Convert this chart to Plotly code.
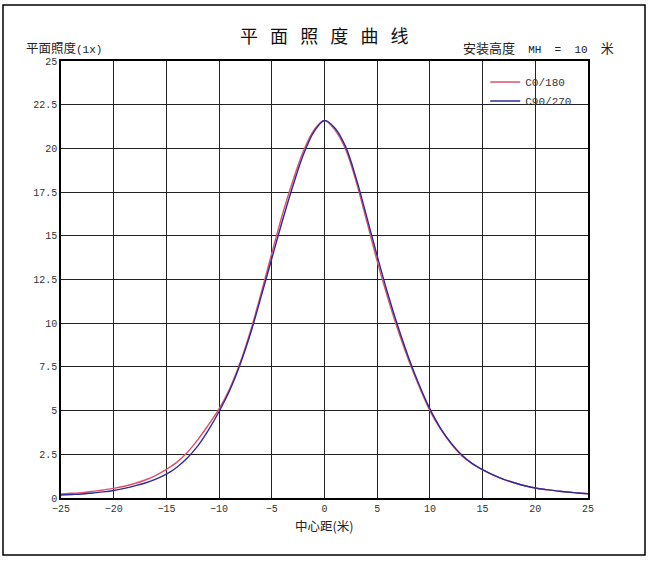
import plotly.graph_objects as go

x_m = list(range(-25, 26))
c0_180 = [0.23, 0.27, 0.31, 0.38, 0.46, 0.55, 0.67, 0.83, 1.03, 1.3, 1.64, 2.05, 2.62, 3.35, 4.2, 5.1,
          6.25, 7.75, 9.6, 11.75, 14.0, 16.2, 18.15, 19.85, 21.05, 21.6, 21.05, 19.95, 18.1, 15.85, 13.55,
          11.45, 9.55, 7.85, 6.35, 5.0, 3.95, 3.1, 2.43, 1.96, 1.61, 1.31, 1.07, 0.87, 0.7, 0.57,
          0.48, 0.41, 0.34, 0.29, 0.24]
c90_270 = [0.17, 0.2, 0.23, 0.29, 0.35, 0.43, 0.55, 0.69, 0.86, 1.08, 1.36, 1.76, 2.3, 3.0, 3.9, 4.95,
           6.15, 7.65, 9.45, 11.55, 13.7, 15.85, 17.85, 19.65, 20.95, 21.6, 21.15, 20.1, 18.3, 16.1, 13.85,
           11.7, 9.75, 8.0, 6.45, 5.1, 4.0, 3.15, 2.47, 1.98, 1.62, 1.32, 1.07, 0.87, 0.7, 0.57,
           0.48, 0.41, 0.34, 0.29, 0.24]
x_ticks = [-25, -20, -15, -10, -5, 0, 5, 10, 15, 20, 25]
y_ticks = [0, 2.5, 5, 7.5, 10, 12.5, 15, 17.5, 20, 22.5, 25]
y_tick_text = ["0", "2.5", "5", "7.5", "10", "12.5", "15", "17.5", "20", "22.5", "25"]

MONO = "Liberation Mono, DejaVu Sans Mono, monospace"
CJK = "Noto Sans CJK SC, sans-serif"

fig = go.Figure()
fig.add_trace(go.Scatter(x=x_m, y=c0_180, mode="lines", name="C0/180",
                         line=dict(color="#e0506a", width=1.4, shape="spline", smoothing=1.0)))
fig.add_trace(go.Scatter(x=x_m, y=c90_270, mode="lines", name="C90/270",
                         line=dict(color="#2b2b9c", width=1.4, shape="spline", smoothing=1.0)))

axis_common = dict(showgrid=True, gridcolor="#222222", gridwidth=1, zeroline=False,
                   showline=True, linecolor="#000000", linewidth=1.5, mirror=True,
                   ticks="", tickfont=dict(family=MONO, size=10, color="#333333"))

fig.update_xaxes(range=[-25, 25], tickvals=x_ticks, **axis_common)
fig.update_yaxes(range=[0, 25], tickvals=y_ticks, ticktext=y_tick_text, **axis_common)

fig.update_layout(
    width=649, height=565,
    margin=dict(l=61, r=61, t=61, b=67),
    paper_bgcolor="white", plot_bgcolor="white",
    showlegend=True,
    legend=dict(x=0.805, y=0.985, xanchor="left", yanchor="top",
                bgcolor="rgba(0,0,0,0)", borderwidth=0,
                font=dict(family=MONO, size=11, color="#333333"),
                tracegroupgap=4),
    shapes=[dict(type="rect", xref="paper", yref="paper",
                 x0=-58 / 527, x1=584 / 527, y0=(498 - 555) / 437, y1=(498 - 5) / 437,
                 line=dict(color="#000000", width=1.5), fillcolor="rgba(0,0,0,0)", layer="below")],
    annotations=[
        dict(text="平 &nbsp;&nbsp;面 &nbsp;&nbsp;照 &nbsp;&nbsp;度 &nbsp;&nbsp;曲 &nbsp;&nbsp;线",
             xref="paper", yref="paper",
             x=(324 - 61) / 527, y=(498 - 35) / 437, xanchor="center", yanchor="middle",
             showarrow=False, font=dict(family=CJK, size=18, color="#111111")),
        dict(text="平面照度<span style='font-family:Liberation Mono;font-size:11px'>(1x)</span>",
             xref="paper", yref="paper",
             x=(24 - 61) / 527, y=(498 - 47) / 437, xanchor="left", yanchor="middle",
             showarrow=False, font=dict(family=CJK, size=12.5, color="#222222")),
        dict(text="安装高度<span style='font-family:Liberation Mono;font-size:11px'>&nbsp; MH&nbsp; =&nbsp; 10&nbsp;&nbsp;</span>米",
             xref="paper", yref="paper",
             x=(616 - 61) / 527, y=(498 - 47) / 437, xanchor="right", yanchor="middle",
             showarrow=False, font=dict(family=CJK, size=13, color="#222222")),
        dict(text="中心距(米)", xref="paper", yref="paper",
             x=(324 - 61) / 527, y=(498 - 525) / 437, xanchor="center", yanchor="middle",
             showarrow=False, font=dict(family=CJK, size=12.5, color="#222222")),
    ],
)

fig.write_html("out.html")
